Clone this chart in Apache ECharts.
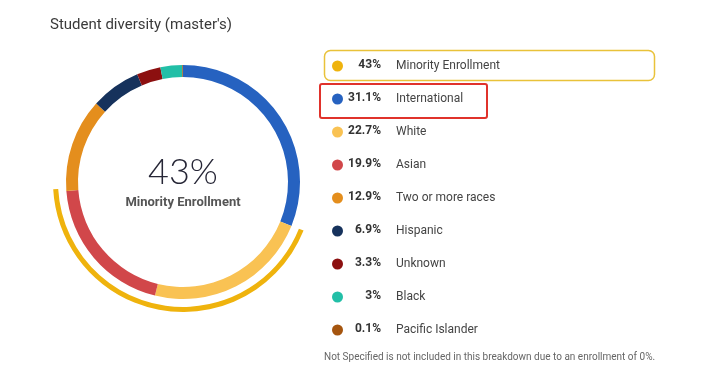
<!DOCTYPE html>
<html><head><meta charset="utf-8">
<script src="https://cdn.jsdelivr.net/npm/echarts@6/dist/echarts.min.js"></script>
<style>html,body{margin:0;padding:0;background:#fff}#c{width:716px;height:389px}</style>
</head><body><div id="c"></div>
<script>
const titleText = "Student diversity (master's)";
const categories = ["International","White","Asian","Two or more races","Hispanic","Unknown","Black","Pacific Islander"];
const shares = [31.1, 22.7, 19.9, 12.9, 6.9, 3.3, 3, 0.1];
const colors = ["#2662c0","#f9c253","#d1474a","#e48e1d","#16325c","#8c1010","#22bfa7","#a5550f"];
const minorityName = "Minority Enrollment";
const minorityShare = 43;
const minorityColor = "#efb30d";
const footnote = "Not Specified is not included in this breakdown due to an enrollment of 0%.";

const pctOf = {};
categories.forEach((c,i)=>pctOf[c]=shares[i]);
pctOf[minorityName] = minorityShare;
const legendNames = [minorityName].concat(categories);
const font = "Roboto, 'Noto Sans', sans-serif";
const chart = echarts.init(document.getElementById('c'));
const cx = 183, cy = 182;
const rowTop = 55, rowStep = 33;
chart.setOption({
  animation: false,
  title: {text: titleText, left: 45, top: 13, textStyle: {fontFamily: font, fontSize: 15, fontWeight: 'normal', color: '#3a3a3a'}},
  legend: legendNames.map((n,i)=>({
    data: [n], left: 327, top: rowTop + rowStep*i, orient: 'vertical', icon: 'circle', itemWidth: 11, itemHeight: 11,
    selectedMode: false,
    formatter: name => `{n|${name}}`,
    textStyle: {fontFamily: font, fontSize: 12, color: '#444',
      rich: {n: {padding: [0,0,0,48], fontSize: 12, color: '#444', fontFamily: font}}}
  })),
  series: [
    {type: 'pie', center: [cx, cy], radius: [105, 117], startAngle: 90, clockwise: true, silent: true,
     label: {show: false}, labelLine: {show: false}, emphasis: {disabled: true},
     data: categories.map((c,i)=>({name: c, value: shares[i], itemStyle: {color: colors[i]}}))},
    {type: 'pie', center: [cx, cy], radius: [125, 130], startAngle: 90 - shares[0]*3.6, clockwise: true, silent: true,
     label: {show: false}, labelLine: {show: false}, emphasis: {disabled: true},
     data: [{name: minorityName, value: minorityShare, itemStyle: {color: minorityColor}},
            {name: '', value: 100 - minorityShare, itemStyle: {color: 'transparent'}}]}
  ],
  graphic: [
    {type: 'text', style: {text: minorityShare + '%', x: cx, y: 172, align: 'center', verticalAlign: 'middle',
      fontFamily: "Lato, 'Open Sans', sans-serif", fontWeight: 300, fontSize: 36, fill: '#262636'}},
    {type: 'text', style: {text: minorityName, x: cx, y: 203, align: 'center', verticalAlign: 'middle',
      fontFamily: font, fontWeight: 'bold', fontSize: 13, fill: '#555'}},
    {type: 'rect', shape: {x: 324.5, y: 50.5, width: 330, height: 30, r: 6}, style: {fill: 'none', stroke: '#e9c23a', lineWidth: 1.5}},
    {type: 'rect', shape: {x: 320, y: 84, width: 167, height: 34, r: 2}, style: {fill: 'none', stroke: '#e0322b', lineWidth: 2}},
    {type: 'text', style: {text: footnote, x: 324, y: 357, verticalAlign: 'middle', fontFamily: font, fontSize: 10, fill: '#666'}}
  ].concat(legendNames.map((n,i)=>({type: 'text', style: {text: pctOf[n] + '%', x: 381, y: rowTop + 10 + rowStep*i,
      align: 'right', verticalAlign: 'middle', fontFamily: font, fontWeight: 'bold', fontSize: 12, fill: '#333'}})))
});
</script></body></html>
